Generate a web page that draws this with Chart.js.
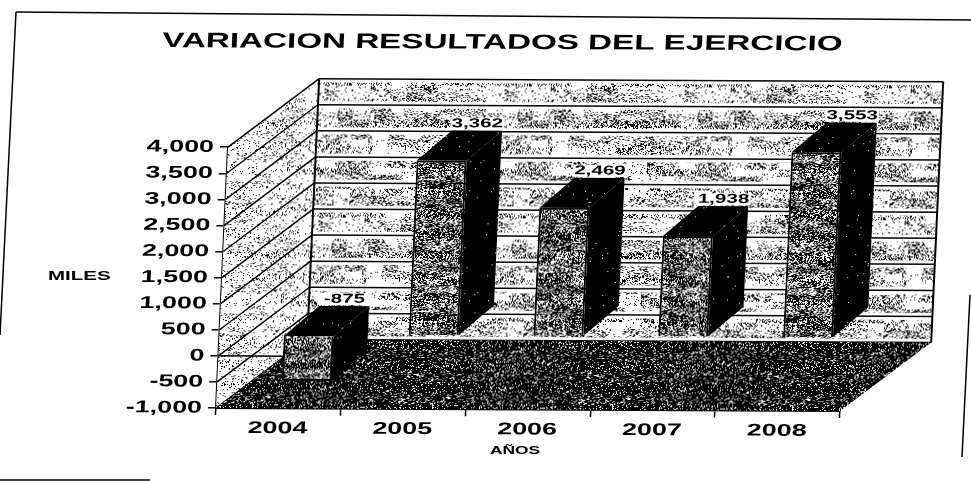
<!DOCTYPE html>
<html>
<head>
<meta charset="utf-8">
<style>
  html, body { margin: 0; background: #fff; }
  #wrap { position: relative; width: 971px; height: 481px; }
</style>
</head>
<body>
<div id="wrap"><canvas id="resultChart"></canvas></div>
<script src="https://cdn.jsdelivr.net/npm/chart.js@4/dist/chart.umd.min.js"></script>
<script>
const years = ["2004", "2005", "2006", "2007", "2008"];
const results = [-875, 3362, 2469, 1938, 3553];
const yMin = -1000;
const yMax = 4000;
const yStep = 500;

const titleText = "VARIACION RESULTADOS DEL EJERCICIO";
const yTitle = "MILES";
const xTitle = "AÑOS";

// depth of the box and of the bars inside it
const wallDx = 88, wallDy = -69;
const barFrontDx = 27, barFrontDy = -21;
const barBackDx = 61, barBackDy = -51;

// the scan is skewed, so is everything in the plot
const skewX = -0.046, skewY = 0.005;
// the scanned lettering is much wider than any installed font
const textStretch = 1.58;

function noise(x, y) {
  const n = Math.sin(x * 12.9898 + y * 78.233) * 43758.5453;
  return n - Math.floor(n);
}

// speckled tile for the photocopied look
function speckle(ctx, density, clump) {
  const tile = document.createElement("canvas");
  tile.width = 180;
  tile.height = 132;
  const t = tile.getContext("2d");
  t.fillStyle = "#fff";
  t.fillRect(0, 0, tile.width, tile.height);
  t.fillStyle = "#000";
  for (let y = 0; y < tile.height; y++) {
    for (let x = 0; x < tile.width; x++) {
      const c = 1 + clump * (noise(Math.floor(x / 16), Math.floor(y / 7)) * 2 - 1);
      if (noise(x + 3, y + 7) < density * c) t.fillRect(x, y, 1, 1);
    }
  }
  return ctx.createPattern(tile, "repeat");
}

function quad(ctx, pts, fill) {
  ctx.beginPath();
  pts.forEach((p, i) => (i ? ctx.lineTo(p[0], p[1]) : ctx.moveTo(p[0], p[1])));
  ctx.closePath();
  if (fill) {
    ctx.fillStyle = fill;
    ctx.fill();
  }
}

function line(ctx, x1, y1, x2, y2, width, color) {
  ctx.beginPath();
  ctx.moveTo(x1, y1);
  ctx.lineTo(x2, y2);
  ctx.lineWidth = width;
  ctx.strokeStyle = color;
  ctx.stroke();
}

const canvas = document.getElementById("resultChart");
const baseCtx = canvas.getContext("2d");
const wallFill = speckle(baseCtx, 0.24, 1);
const sideFill = speckle(baseCtx, 0.11, 0.9);
const floorFill = speckle(baseCtx, 0.84, 0.08);
const faceFill = speckle(baseCtx, 0.6, 0.3);
const darkFill = speckle(baseCtx, 0.995, 0);

const box3d = {
  id: "box3d",
  beforeDraw(chart) {
    const ctx = chart.ctx;
    ctx.save();
    ctx.transform(1, skewY, skewX, 1, -skewX * 408, -skewY * 216);
    const rawFillText = CanvasRenderingContext2D.prototype.fillText;
    ctx.fillText = function (text, x, y) {
      this.save();
      this.translate(x, y);
      this.scale(textStretch, 1);
      rawFillText.call(this, text, 0, 0);
      this.restore();
    };
  },
  afterLayout(chart) {
    // centre the title on the page, not on the plot
    chart.titleBlock.right = chart.width;
  },
  beforeDatasetsDraw(chart) {
    const ctx = chart.ctx;
    const { left, right } = chart.chartArea;
    const y = chart.scales.y;
    const top = y.getPixelForValue(yMax);
    const bottom = y.getPixelForValue(yMin);
    const zero = y.getPixelForValue(0);

    quad(ctx, [[left + wallDx, top + wallDy], [right + wallDx, top + wallDy],
      [right + wallDx, bottom + wallDy], [left + wallDx, bottom + wallDy]], wallFill);
    quad(ctx, [[left, top], [left + wallDx, top + wallDy],
      [left + wallDx, bottom + wallDy], [left, bottom]], sideFill);

    y.ticks.forEach((tick) => {
      const py = y.getPixelForValue(tick.value);
      line(ctx, left + wallDx, py + wallDy, right + wallDx, py + wallDy, 7, "#fff");
      line(ctx, left + wallDx, py + wallDy, right + wallDx, py + wallDy, 1.5, "#000");
      line(ctx, left, py, left + wallDx, py + wallDy, 1.5, "#000");
    });
    line(ctx, left, zero, left + 68, zero, 1.5, "#000");
    line(ctx, left + wallDx, top + wallDy, left + wallDx, bottom + wallDy, 2, "#000");
    line(ctx, right + wallDx, top + wallDy, right + wallDx, bottom + wallDy, 2, "#000");

    quad(ctx, [[left, bottom], [right, bottom],
      [right + wallDx, bottom + wallDy], [left + wallDx, bottom + wallDy]], floorFill);

    // bar sides and tops, then shift so the library draws the front faces in the box
    chart.getDatasetMeta(0).data.forEach((bar) => {
      const high = Math.min(bar.y, bar.base);
      const low = Math.max(bar.y, bar.base);
      const l = bar.x - bar.width / 2;
      const r = bar.x + bar.width / 2;
      quad(ctx, [[l + barFrontDx, high + barFrontDy], [r + barFrontDx, high + barFrontDy],
        [r + barBackDx, high + barBackDy], [l + barBackDx, high + barBackDy]], darkFill);
      quad(ctx, [[r + barFrontDx, high + barFrontDy], [r + barBackDx, high + barBackDy],
        [r + barBackDx, low + barBackDy], [r + barFrontDx, low + barFrontDy]], darkFill);
    });
    ctx.save();
    ctx.translate(barFrontDx, barFrontDy);
  },
  afterDatasetsDraw(chart) {
    const ctx = chart.ctx;
    ctx.restore();
    ctx.save();
    ctx.font = "bold 13px 'Liberation Sans'";
    ctx.textAlign = "center";
    ctx.textBaseline = "middle";
    chart.getDatasetMeta(0).data.forEach((bar, i) => {
      const high = Math.min(bar.y, bar.base);
      const lx = bar.x + barBackDx;
      const ly = high + barBackDy - 7;
      ctx.fillStyle = "#fff";
      ctx.fillRect(lx - 27, ly - 6, 54, 12);
      ctx.fillStyle = "#000";
      ctx.fillText(results[i].toLocaleString("en-US"), lx, ly);
    });
    ctx.restore();
  },
  afterDraw(chart) {
    const ctx = chart.ctx;
    ctx.restore();

    ctx.save();
    ctx.fillStyle = "#000";
    ctx.textBaseline = "middle";
    ctx.font = "bold 13px 'Liberation Sans'";
    ctx.fillText(yTitle, 48, 276);
    ctx.font = "bold 11px 'Liberation Sans'";
    ctx.fillText(xTitle, 490, 451);
    ctx.restore();
    delete ctx.fillText;

    // page frame
    line(ctx, 16, 12, 971, 20, 1.5, "#000");
    line(ctx, 16, 12, 0, 335, 1.5, "#000");
    line(ctx, 970, 295, 962, 457, 1.5, "#000");
    line(ctx, 0, 480, 150, 480, 1.5, "#000");
  },
};

const tickFont = { family: "'Liberation Sans'", size: 17, weight: "bold" };

new Chart(canvas, {
  type: "bar",
  data: {
    labels: years,
    datasets: [
      {
        label: yTitle,
        data: results,
        backgroundColor: faceFill,
        borderColor: "#000",
        borderWidth: 2,
        categoryPercentage: 0.4,
        barPercentage: 1,
        clip: false,
      },
    ],
  },
  options: {
    responsive: true,
    maintainAspectRatio: false,
    animation: false,
    layout: { padding: { left: 0, right: 131, top: 0, bottom: 0 } },
    plugins: {
      legend: { display: false },
      tooltip: { enabled: false },
      title: {
        display: true,
        text: titleText,
        color: "#000",
        font: { family: "'Liberation Sans'", size: 21, weight: "bold" },
        padding: { top: 29, bottom: 93 },
      },
    },
    scales: {
      x: {
        grid: { drawOnChartArea: false, color: "#000", tickLength: 7, lineWidth: 1.5 },
        border: { color: "#000", width: 2 },
        ticks: { color: "#000", font: tickFont, padding: 3, maxRotation: 0 },
        afterFit(scale) {
          scale.height = 73;
        },
      },
      y: {
        min: yMin,
        max: yMax,
        grid: { drawOnChartArea: false, color: "#000", tickLength: 8, lineWidth: 1.5 },
        border: { color: "#000", width: 2 },
        ticks: {
          color: "#000",
          font: tickFont,
          padding: 6,
          stepSize: yStep,
          callback: (v) => v.toLocaleString("en-US"),
        },
        afterFit(scale) {
          scale.width = 216;
        },
      },
    },
  },
  plugins: [box3d],
});
</script>
</body>
</html>
